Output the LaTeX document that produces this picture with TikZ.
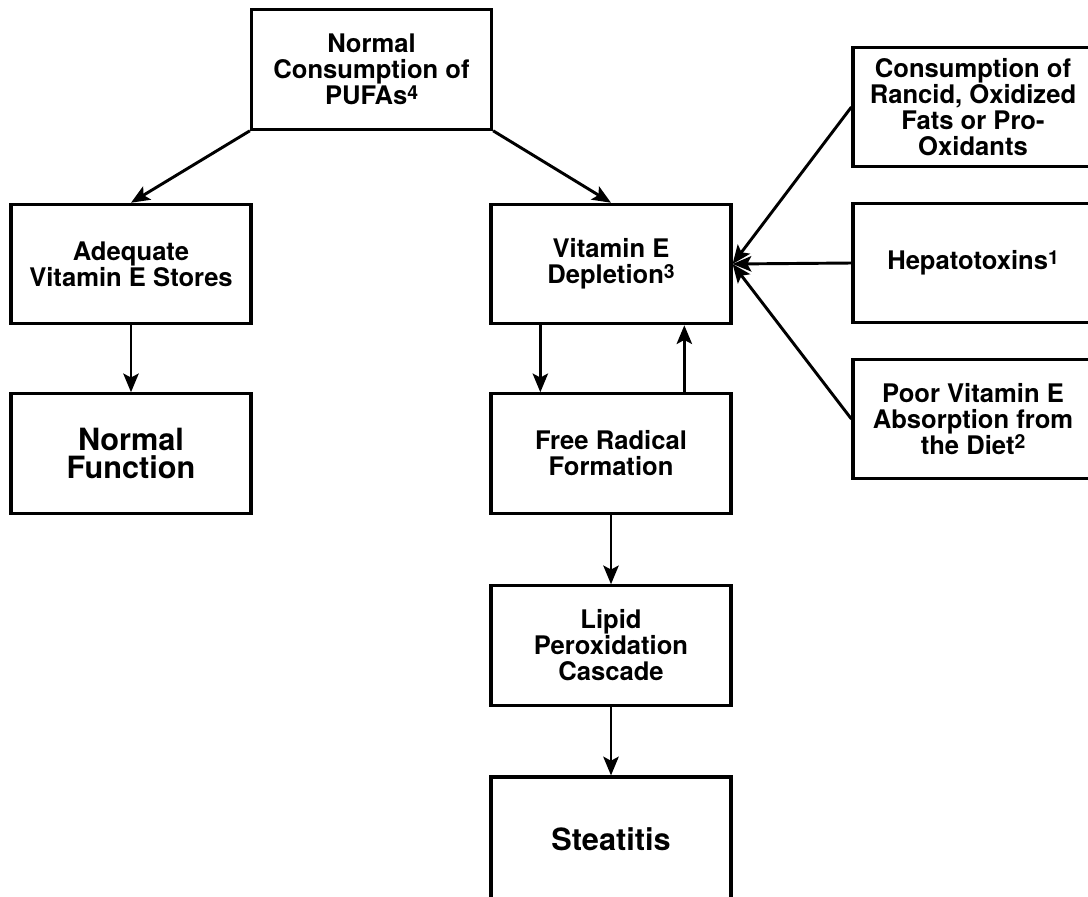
\documentclass[tikz,border=0pt]{standalone}
\usepackage{fontspec}
\setmainfont{TeX Gyre Heros}
\usetikzlibrary{arrows.meta}

\tikzset{every picture/.style={line width=2.4pt}}
\tikzset{
  box/.style={draw, rectangle, line width=2.4pt, minimum width=180pt, minimum height=89.5pt, inner sep=0pt, align=center, font=\fontsize{19.2}{19.5}\selectfont\bfseries},
  bigbox/.style={box, font=\fontsize{23}{21.5}\selectfont\bfseries},
  arr/.style={line width=2.2pt, -{Stealth[length=14pt,width=11.5pt,inset=3pt]}}
}
\newcommand{\fnmark}[1]{\raisebox{0.4ex}{\fontsize{14.5}{14.5}\selectfont #1}}

\begin{document}
\begin{tikzpicture}[x=0.75pt,y=0.75pt,yscale=-1,xscale=1]
%set diagram left start at 0, and has height of 896
\useasboundingbox (0,0) rectangle (1088,896);

%Shape: Rectangle [pufa]
\node [box] (pufa) at (371.5,69.5) {Normal\\Consumption of\\PUFAs\fnmark{4}};
%Shape: Rectangle [adequate]
\node [box] (adequate) at (131,264) {Adequate\\Vitamin E Stores};
%Shape: Rectangle [depletion]
\node [box] (depletion) at (611,264) {Vitamin E\\Depletion\fnmark{3}};
%Shape: Rectangle [normal]
\node [bigbox] (normal) at (131,453.5) {Normal\\Function};
%Shape: Rectangle [radical]
\node [box] (radical) at (611,453.5) {Free Radical\\Formation};
%Shape: Rectangle [lipid]
\node [box] (lipid) at (611,645.5) {Lipid\\Peroxidation\\Cascade};
%Shape: Rectangle [steatitis]
\node [bigbox, minimum height=93pt] (steatitis) at (611,839) {Steatitis};
%Shape: Rectangle [rancid]
\node [box] (rancid) at (973,107) {Consumption of\\Rancid, Oxidized\\Fats or Pro-\\Oxidants};
%Shape: Rectangle [hepato]
\node [box] (hepato) at (973,263) {Hepatotoxins\fnmark{1}};
%Shape: Rectangle [poor]
\node [box] (poor) at (973,419) {Poor Vitamin E\\Absorption from\\the Diet\fnmark{2}};

%Straight Lines
\draw [arr] (pufa.south west) -- (adequate.north);
\draw [arr] (pufa.south east) -- (depletion.north);
\draw [arr] (adequate) -- (normal);
\draw [arr] ([xshift=-53pt]depletion.south) -- ([xshift=-53pt]radical.north);
\draw [arr] ([xshift=55pt]radical.north) -- ([xshift=55pt]depletion.south);
\draw [arr] (radical) -- (lipid);
\draw [arr] (lipid) -- (steatitis);
%Straight Lines into depletion
\draw [arr] (rancid.west) -- (depletion.east);
\draw [arr] (hepato.west) -- (depletion.east);
\draw [arr] (poor.west) -- (depletion.east);
\end{tikzpicture}
\end{document}
